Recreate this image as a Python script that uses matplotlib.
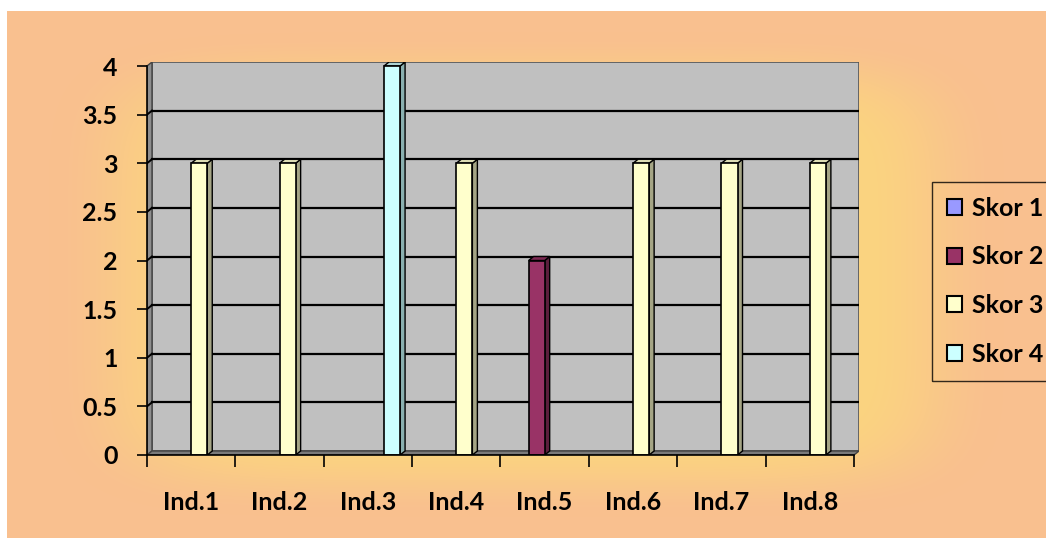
import matplotlib.pyplot as plt
import numpy as np
from matplotlib.patches import Polygon, Patch

categories = ["Ind.1", "Ind.2", "Ind.3", "Ind.4", "Ind.5", "Ind.6", "Ind.7", "Ind.8"]
series_names = ["Skor 1", "Skor 2", "Skor 3", "Skor 4"]
skor1 = [0, 0, 0, 0, 0, 0, 0, 0]
skor2 = [0, 0, 0, 0, 2, 0, 0, 0]
skor3 = [3, 3, 0, 3, 0, 3, 3, 3]
skor4 = [0, 0, 4, 0, 0, 0, 0, 0]
yticks = [0, 0.5, 1, 1.5, 2, 2.5, 3, 3.5, 4]

# front / side / top face colours per series
front = ["#9999FF", "#993366", "#FFFFCC", "#CCFFFF"]
side = ["#6B6BB3", "#5C1F3D", "#A5A585", "#8AB0B0"]
top = ["#B8B8FF", "#7D2A53", "#DCDCB4", "#AED4D4"]

plt.rcParams["font.family"] = ["Lato", "DejaVu Sans"]
plt.rcParams["font.weight"] = "bold"

W, H = 1046, 538
fig = plt.figure(figsize=(W / 100, H / 100), dpi=100)
fig.patch.set_facecolor("white")

# background panel with rectangular gradient (yellow centre -> peach edges)
bx0, by0 = 7, 11
bg = fig.add_axes([bx0 / W, 0, 1 - bx0 / W, 1 - by0 / H])
xs = np.arange(bx0, W) + 0.5
ys = np.arange(by0, H) + 0.5
X, Y = np.meshgrid(xs, ys)
cx, cy = (bx0 + W) / 2, (by0 + H) / 2
tx = np.abs(X - cx) / ((W - bx0) / 2)
ty = np.abs(Y - cy) / ((H - by0) / 2)
t = (tx ** 6 + ty ** 6) ** (1 / 6)
s = np.clip((t - 0.64) / (0.92 - 0.64), 0, 1)
s = s * s * (3 - 2 * s)
yellow = np.array([251, 212, 128]) / 255
peach = np.array([249, 192, 143]) / 255
img = yellow[None, None, :] + (peach - yellow)[None, None, :] * s[..., None]
bg.imshow(img, aspect="auto", interpolation="bilinear")
bg.axis("off")

# plot area (pixel bounds of front axis + depth)
px0, px1, py_top, py_bot = 147, 859, 62, 455
depth_x, depth_y = 5, 4
n = len(categories)
ddx = depth_x / ((px1 - px0 - depth_x) / n)
ddy = depth_y / ((py_bot - py_top - depth_y) / 4)

ax = fig.add_axes([px0 / W, 1 - py_bot / H, (px1 - px0) / W, (py_bot - py_top) / H])
ax.set_xlim(0, n + ddx)
ax.set_ylim(0, 4 + ddy)
ax.patch.set_visible(False)

# walls and floor
ax.add_patch(Polygon([(ddx, ddy), (n + ddx, ddy), (n + ddx, 4 + ddy), (ddx, 4 + ddy)],
                     closed=True, facecolor="#C0C0C0", edgecolor="#555555", lw=1.2, zorder=1))
ax.add_patch(Polygon([(0, 0), (ddx, ddy), (ddx, 4 + ddy), (0, 4)],
                     closed=True, facecolor="#8E8E8E", edgecolor="#444444", lw=1, zorder=1))
ax.add_patch(Polygon([(0, 0), (ddx, ddy), (n + ddx, ddy), (n, 0)],
                     closed=True, facecolor="#7A7A7A", edgecolor="#444444", lw=1, zorder=1))

for v in yticks[1:-1]:
    ax.plot([ddx, n + ddx], [v + ddy, v + ddy], color="black", lw=1.6, zorder=2)
    ax.plot([0, ddx], [v, v + ddy], color="black", lw=1.4, zorder=2)

# bars: clustered, gap width 150%
values = [skor1, skor2, skor3, skor4]
slot = 1 / (len(values) + 1.5)
for k, vals in enumerate(values):
    xpos = np.arange(n) + 0.75 * slot + k * slot
    mask = np.array(vals) > 0
    ax.bar(xpos[mask], np.array(vals)[mask], width=slot, align="edge",
           color=front[k], edgecolor="black", lw=1.2, zorder=4)
    for x, v in zip(xpos[mask], np.array(vals)[mask]):
        ax.add_patch(Polygon([(x + slot, 0), (x + slot + ddx, ddy), (x + slot + ddx, v + ddy), (x + slot, v)],
                             closed=True, facecolor=side[k], edgecolor="black", lw=1, zorder=3))
        ax.add_patch(Polygon([(x, v), (x + ddx, v + ddy), (x + slot + ddx, v + ddy), (x + slot, v)],
                             closed=True, facecolor=top[k], edgecolor="black", lw=1, zorder=3))

for sp in ["top", "right"]:
    ax.spines[sp].set_visible(False)
ax.spines["left"].set_bounds(0, 4)
ax.spines["bottom"].set_bounds(0, n)
for sp in ["left", "bottom"]:
    ax.spines[sp].set_color("black")
    ax.spines[sp].set_linewidth(1.2)
    ax.spines[sp].set_zorder(5)

ax.set_yticks(yticks)
ax.set_yticklabels([f"{v:g}" for v in yticks])
ax.tick_params(axis="y", length=7.2, width=1.2, pad=14, labelsize=18, direction="out")
ax.set_xticks(np.arange(n) + 0.5)
ax.set_xticklabels(categories)
ax.set_xticks(np.arange(n + 1), minor=True)
ax.tick_params(axis="x", which="major", length=0, pad=26, labelsize=18)
ax.tick_params(axis="x", which="minor", length=8.6, width=1.2, direction="out")

handles = [Patch(facecolor=c, edgecolor="black", lw=1.5) for c in front]
leg = fig.legend(handles, series_names, loc="upper left",
                 bbox_to_anchor=(932 / W, 1 - 182 / H), borderaxespad=0,
                 fontsize=18, frameon=True, fancybox=False, edgecolor="black",
                 handlelength=0.6, handleheight=0.6, handletextpad=0.4,
                 labelspacing=1.02, borderpad=0.6)
leg.get_frame().set_facecolor("none")
leg.get_frame().set_linewidth(1)

fig.savefig("out.png", dpi=100)
